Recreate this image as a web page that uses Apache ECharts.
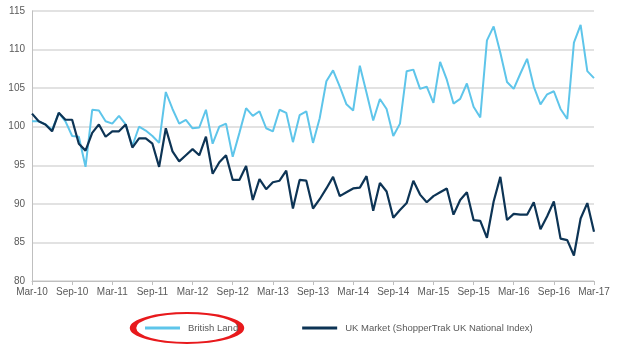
<!DOCTYPE html>
<html>
<head>
<meta charset="utf-8">
<title>British Land vs UK Market</title>
<script src="https://cdn.jsdelivr.net/npm/echarts@6/dist/echarts.min.js"></script>
<style>
  html, body { margin: 0; padding: 0; background: #fff; }
  #chart { width: 640px; height: 352px; }
</style>
</head>
<body>
<div id="chart"></div>
<script>
// month labels Mar-10 .. Mar-17
var monNames = ['Jan','Feb','Mar','Apr','May','Jun','Jul','Aug','Sep','Oct','Nov','Dec'];
var months = [];
for (var i = 0; i < 85; i++) {
  var m = (2 + i) % 12;
  var y = 10 + Math.floor((2 + i) / 12);
  months.push(monNames[m] + '-' + y);
}

var britishLand = [
  100.7, 100.7, 100.3, 99.6, 101.8, 100.7, 98.8, 98.7, 94.8, 102.2,
  102.1, 100.7, 100.4, 101.4, 100.3, 97.5, 100.0, 99.5, 98.8, 97.9,
  104.5, 102.3, 100.4, 100.9, 99.8, 99.9, 102.2, 97.8, 100.0, 100.4,
  96.1, 99.2, 102.4, 101.4, 102.0, 99.8, 99.4, 102.2, 101.8, 98.0,
  101.5, 102.0, 97.9, 101.1, 105.9, 107.3, 105.2, 102.9, 102.1, 107.9,
  104.4, 100.8, 103.6, 102.3, 98.8, 100.4, 107.2, 107.4, 104.9, 105.2,
  103.1, 108.4, 106.1, 103.0, 103.6, 105.6, 102.6, 101.2, 111.2, 113.0,
  109.6, 105.8, 104.9, 106.9, 108.8, 105.2, 102.9, 104.2, 104.6, 102.3,
  101.0, 110.9, 113.2, 107.2, 106.3
];

var ukMarket = [
  101.7, 100.7, 100.3, 99.4, 101.8, 100.9, 100.9, 97.8, 96.9, 99.2,
  100.3, 98.7, 99.4, 99.4, 100.3, 97.3, 98.5, 98.5, 97.8, 94.8,
  99.8, 96.8, 95.5, 96.3, 97.1, 96.3, 98.7, 93.9, 95.4, 96.3,
  93.1, 93.1, 94.9, 90.5, 93.2, 91.9, 92.8, 93.0, 94.3, 89.4,
  93.1, 93.0, 89.4, 90.6, 92.0, 93.5, 91.0, 91.5, 92.0, 92.1,
  93.6, 89.1, 92.7, 91.6, 88.2, 89.2, 90.1, 93.0, 91.2, 90.2,
  91.0, 91.5, 92.0, 88.6, 90.5, 91.5, 87.9, 87.8, 85.6, 90.3,
  93.5, 87.9, 88.7, 88.6, 88.6, 90.2, 86.7, 88.4, 90.3, 85.5,
  85.3, 83.3, 88.1, 90.1, 86.4
];

var chart = echarts.init(document.getElementById('chart'));
var txt = '#595959';

chart.setOption({
  animation: false,
  textStyle: { fontFamily: 'Liberation Sans, Arial, sans-serif' },
  grid: { left: 32, right: 46, top: 11, bottom: 71 },
  legend: {
    bottom: 14,
    left: 140,
    itemGap: 64,
    itemWidth: 35,
    itemHeight: 3,
    icon: 'rect',
    textStyle: { color: txt, fontSize: 9.5, padding: [0, 0, 0, 3] },
    data: ['British Land', 'UK Market (ShopperTrak UK National Index)']
  },
  xAxis: {
    type: 'category',
    boundaryGap: false,
    data: months,
    axisLine: { lineStyle: { color: '#bfbfbf', width: 1 } },
    axisTick: { interval: 5, length: 4, lineStyle: { color: '#bfbfbf' } },
    axisLabel: { interval: 5, color: txt, fontSize: 10, margin: 6 },
    splitLine: { show: false }
  },
  yAxis: {
    type: 'value',
    min: 80,
    max: 115,
    interval: 5,
    axisLine: { show: true, lineStyle: { color: '#bfbfbf', width: 1 } },
    axisTick: { show: false },
    axisLabel: { color: txt, fontSize: 10, margin: 7 },
    splitLine: { lineStyle: { color: '#d9d9d9', width: 1.5 } }
  },
  series: [
    {
      name: 'British Land',
      type: 'line',
      data: britishLand,
      symbol: 'none',
      lineStyle: { color: '#5ec5ea', width: 2 },
      itemStyle: { color: '#5ec5ea' }
    },
    {
      name: 'UK Market (ShopperTrak UK National Index)',
      type: 'line',
      data: ukMarket,
      symbol: 'none',
      lineStyle: { color: '#0d3455', width: 2.2 },
      itemStyle: { color: '#0d3455' }
    }
  ],
  graphic: [
    {
      // red annotation ring round the British Land legend item
      type: 'circle',
      x: 187, y: 328,
      scaleX: 3.6, scaleY: 1,
      shape: { cx: 0, cy: 0, r: 15 },
      style: { fill: 'none', stroke: '#e8191c', lineWidth: 1.8, strokeNoScale: true },
      silent: true
    }
  ]
});
</script>
</body>
</html>
